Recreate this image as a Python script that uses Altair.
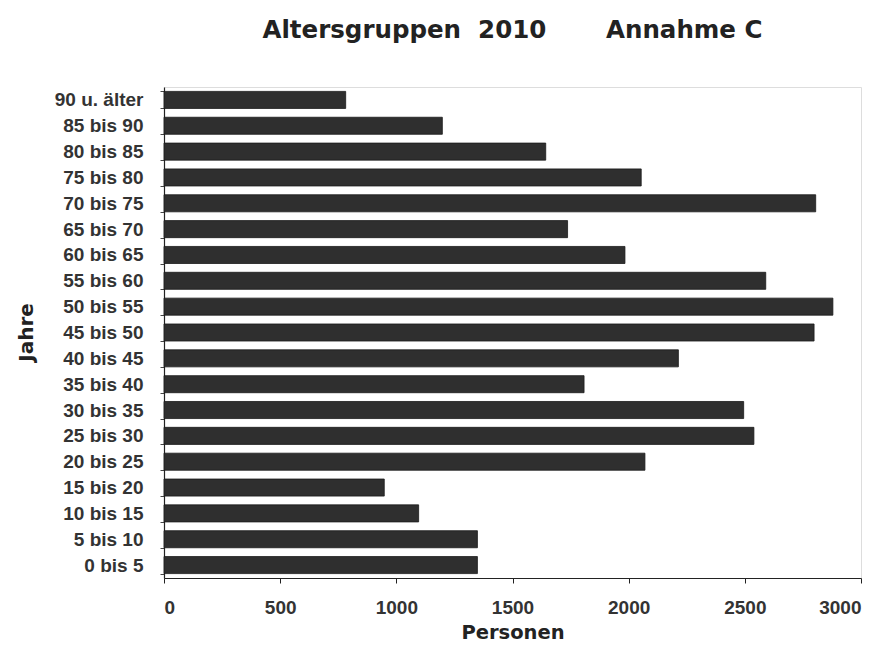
import altair as alt
import pandas as pd

categories = ["90 u. älter", "85 bis 90", "80 bis 85", "75 bis 80", "70 bis 75",
              "65 bis 70", "60 bis 65", "55 bis 60", "50 bis 55", "45 bis 50",
              "40 bis 45", "35 bis 40", "30 bis 35", "25 bis 30", "20 bis 25",
              "15 bis 20", "10 bis 15", "5 bis 10", "0 bis 5"]
personen = [782, 1198, 1643, 2054, 2805,
            1737, 1984, 2590, 2879, 2798,
            2214, 1808, 2495, 2539, 2070,
            948, 1096, 1349, 1349]
x_ticks = [0, 500, 1000, 1500, 2000, 2500, 3000]

df = pd.DataFrame({"Jahre": categories, "Personen": personen})

FONT = "DejaVu Sans"
LFONT = "Liberation Sans"
NB = "\u00a0"
title_text = "Altersgruppen" + NB * 2 + "2010" + NB * 7 + "Annahme" + NB + "C"

bars = alt.Chart(df).mark_bar(color="#2f2f2f", stroke="#1a1a1a", strokeWidth=0.8).encode(
    x=alt.X("Personen:Q",
            scale=alt.Scale(domain=[0, 3000], nice=False),
            axis=alt.Axis(values=x_ticks, title="Personen", grid=False, format="d",
                          domainColor="#222", domainWidth=1.2,
                          tickColor="#222", tickSize=5,
                          labelFont=LFONT, labelFontSize=19, labelFontWeight="bold",
                          labelColor="#333", labelPadding=15,
                          titleFont=FONT, titleFontSize=19.5, titleFontWeight="bold",
                          titleColor="#222", titleY=54, titleBaseline="middle")),
    y=alt.Y("Jahre:N", sort=categories,
            scale=alt.Scale(paddingInner=0.34, paddingOuter=0.17),
            axis=alt.Axis(title="Jahre", tickBand="extent", grid=False,
                          domainColor="#222", domainWidth=1.2,
                          tickColor="#444", tickSize=4,
                          labelFont=LFONT, labelFontSize=19, labelFontWeight="bold",
                          labelColor="#333", labelPadding=17,
                          titleFont=FONT, titleFontSize=20, titleFontWeight="bold",
                          titleColor="#222", titleX=-138, titleY=245,
                          titleAlign="center", titleBaseline="middle", titleAngle=270)),
)

chart = bars.properties(
    width=697,
    height=491,
    autosize=alt.AutoSizeParams(type="none"),
    padding={"left": 156, "top": 79, "right": 16, "bottom": 66},
    title=alt.TitleParams(title_text,
                          font=FONT, fontSize=24.5, fontWeight="bold", color="#222",
                          anchor="middle", offset=35),
).configure_view(
    stroke="#8a8a8a", strokeDash=[4, 2], strokeWidth=1
).configure(background="white")

chart.save("out.html", embed_options={"renderer": "svg", "actions": False})
